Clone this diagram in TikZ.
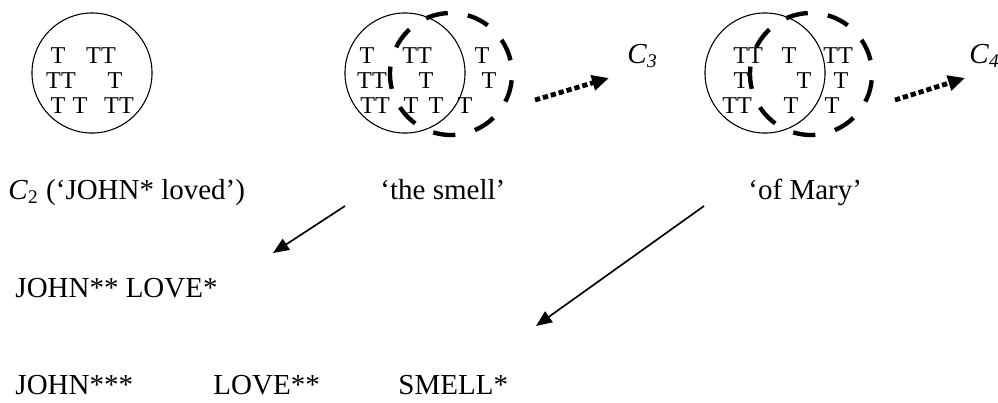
\documentclass[tikz,border=0pt]{standalone}
\usepackage{fontspec}
\setmainfont{Liberation Serif}
\usetikzlibrary{arrows.meta,positioning,calc}

\begin{document}
\begin{tikzpicture}[
  x=0.414pt, y=-0.414pt,
  every node/.style={inner sep=0pt, font=\fontsize{12}{14}\selectfont},
  tok/.style={font=\fontsize{10}{12}\selectfont},
  lbl/.style={anchor=base west},
  cset/.style={circle, draw, line width=0.45pt, minimum size=49.7pt},
  nset/.style={circle, draw, line width=1.8pt, minimum size=50.5pt,
               dash pattern=on 9.27pt off 8.36pt, dash phase=11.9pt},
  dotarr/.style={-{Triangle[length=7pt, width=6.2pt]}, line width=2pt,
                 dash pattern=on 2.2pt off 1.2pt},
  solarr/.style={-{Triangle[length=6.6pt, width=5.4pt]}, line width=0.7pt},
]
\useasboundingbox (0,0) rectangle (998,402);

% contexts
\node[cset] (s1) at (92,73) {};
\node[cset] (s2) at (405,73) {};
\node[nset] (n2) at (451,74) {};
\node[cset] (s3) at (765,73) {};
\node[nset] (n3) at (811,74) {};

% tokens
\foreach \x/\y/\t [count=\i] in {58/56/T, 101/56/TT, 61/81/TT, 115/81/T,
    58/106/T, 80/106/T, 119/106/TT}
  \node[tok] (ta\i) at (\x,\y) {\t};
\foreach \x/\y/\t [count=\i] in {367/56/T, 417/56/TT, 482/56/T, 372/81/TT,
    426/81/T, 489/81/T, 375/106/TT, 411/106/T, 436/106/T, 465/106/T}
  \node[tok] (tb\i) at (\x,\y) {\t};
\foreach \x/\y/\t [count=\i] in {748/56/TT, 789/56/T, 838/56/TT, 741/81/T,
    804/81/T, 841/81/T, 737/106/TT, 791/106/T, 832/106/T}
  \node[tok] (tc\i) at (\x,\y) {\t};

% labels
\node[lbl] (lab2) at (8,199) {\textit{C}\textsubscript{2} (‘JOHN* loved’)};
\node[lbl] (smell) at (380,199) {‘the smell’};
\node[lbl] (mary) at (748,199) {‘of Mary’};
\node[lbl] (c3) at (627,63) {\textit{C}\textsubscript{\textit{3}}};
\node[lbl] (c4) at (969,63) {\textit{C}\textsubscript{\textit{4}}};

\node[lbl] (jl) at (15,297) {JOHN** LOVE*};
\node[lbl] (j3) at (15,394) {JOHN***};
\node[lbl] (l2) at (213,394) {LOVE**};
\node[lbl] (sm1) at (398,394) {SMELL*};

% connectors
\coordinate (p2) at (535,100);
\coordinate (q2) at (609,78);
\coordinate (p3) at (895,100);
\coordinate (q3) at (965,78);
\draw[dotarr] (p2) -- (q2);
\draw[dotarr] (p3) -- (q3);

\coordinate (u1) at (345,206);
\coordinate (v1) at (273,253);
\coordinate (u2) at (704,206);
\coordinate (v2) at (536,326);
\draw[solarr] (u1) -- (v1);
\draw[solarr] (u2) -- (v2);
\end{tikzpicture}
\end{document}
